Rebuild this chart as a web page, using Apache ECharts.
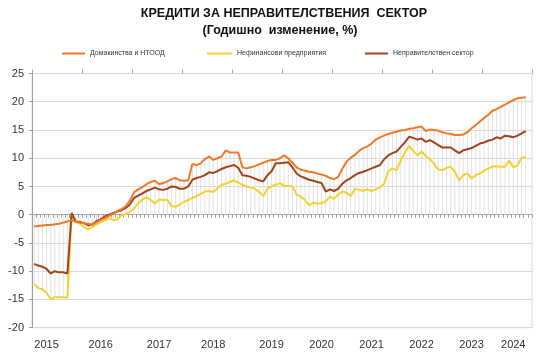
<!DOCTYPE html>
<html><head><meta charset="utf-8">
<script src="https://cdn.jsdelivr.net/npm/echarts@6/dist/echarts.min.js"></script>
<style>html,body{margin:0;padding:0;background:#fff}#c{width:541px;height:355px}</style>
</head><body><div id="c"></div>
<script>
// categories: monthly, Jan 2015 .. Dec 2024
const months = [];
for (let y = 2015; y <= 2024; y++) for (let m = 1; m <= 12; m++) months.push(y + '-' + (m < 10 ? '0' + m : m));

const yearLabels = ['2015','2016','2017','2018','2019','2020','2021','2022','2023','2024'];
const yearLabelMonths = ['2015-04','2016-05','2017-07','2018-08','2019-10','2020-10','2021-10','2022-10','2023-10','2024-08'];
const yTicks = [-20,-15,-10,-5,0,5,10,15,20,25];

const seriesNames = ['Домакинства и НТООД','Нефинансови предприятия','Неправителствен сектор'];

const households = [
-2.1,-2.0,-1.9,-1.8,-1.8,-1.7,-1.6,-1.4,-1.2,-1.0,
-1.2,-1.4,-1.5,-1.6,-1.8,-1.3,-0.9,-0.6,-0.2,0.2,
0.7,1.0,1.5,2.5,4.0,4.5,4.9,5.4,5.8,6.0,
5.4,5.6,5.9,6.3,6.5,6.1,6.0,6.1,9.0,8.8,
9.1,9.9,10.3,9.7,10.0,10.3,11.4,11.0,11.0,11.0,
8.4,8.2,8.4,8.6,8.9,9.2,9.5,9.7,9.7,10.0,
10.5,10.0,9.2,8.4,8.0,7.8,7.6,7.5,7.3,7.1,
6.9,6.5,6.3,6.7,8.2,9.4,10.1,10.6,11.3,11.8,
12.1,12.6,13.3,13.7,14.0,14.3,14.5,14.7,14.9,15.0,
15.2,15.3,15.5,15.6,14.8,15.1,15.0,14.9,14.6,14.4,
14.3,14.1,14.1,14.2,14.6,15.3,15.9,16.5,17.1,17.7,
18.4,18.7,19.1,19.5,19.9,20.3,20.6,20.7,20.8
];
const corporates = [
-12.2,-13.0,-13.2,-13.8,-15.0,-14.6,-14.6,-14.6,-14.7,-0.5,
-1.3,-1.6,-2.2,-2.6,-2.2,-1.7,-1.3,-1.0,-0.6,-1.0,
-0.8,-0.1,0.1,0.5,1.2,2.0,2.7,3.1,2.6,2.0,
2.7,2.6,2.6,1.5,1.4,1.8,2.3,2.6,3.0,3.3,
3.7,4.1,4.2,4.0,4.7,5.3,5.5,5.8,6.1,5.7,
5.3,5.0,4.8,4.6,4.0,3.3,4.6,5.0,5.3,5.6,
5.1,5.1,5.0,3.6,3.2,2.6,1.7,2.1,2.0,2.0,
2.4,3.2,2.8,3.6,4.1,3.9,3.3,4.6,4.4,4.2,
4.5,4.2,4.5,4.8,5.5,7.7,8.2,7.9,9.6,11.0,
12.2,11.3,10.5,11.2,10.4,9.8,9.0,8.0,7.9,8.3,
8.5,7.6,6.1,7.0,7.3,6.4,7.0,7.3,7.8,8.2,
8.5,8.6,8.5,8.5,9.6,8.4,8.7,10.1,10.2
];
const nonGovernment = [
-8.7,-9.0,-9.2,-9.6,-10.4,-10.0,-10.2,-10.2,-10.4,0.3,
-1.2,-1.3,-1.5,-1.9,-1.7,-1.1,-0.8,-0.3,0.0,0.3,
0.6,0.8,1.2,1.8,3.0,3.4,3.8,4.2,4.5,4.8,
4.5,4.4,4.6,5.0,4.9,4.6,4.6,5.0,6.2,6.5,
6.7,7.0,7.5,7.4,7.7,8.1,8.4,8.6,8.8,8.3,
7.0,6.9,6.7,6.4,6.1,5.9,7.0,7.7,9.1,9.1,
9.2,9.3,8.4,7.3,6.8,6.5,6.2,6.0,5.8,5.6,
4.1,4.5,4.2,4.6,5.5,6.1,6.5,7.0,7.4,7.6,
7.9,8.2,8.5,8.8,9.8,10.5,10.9,11.2,12.0,12.8,
13.8,13.6,13.3,13.5,12.9,13.2,12.8,12.3,11.9,11.9,
11.9,11.4,10.9,11.4,11.6,11.8,12.2,12.6,12.8,13.1,
13.3,13.7,13.5,14.0,13.9,13.7,14.0,14.4,14.8
];

// drop lines: from zero to the furthest of the three values in each month
const dropLines = households.map((v, i) => {
  const vals = [v, corporates[i], nonGovernment[i]];
  return vals.reduce((a, b) => Math.abs(b) > Math.abs(a) ? b : a);
});

const colors = ['#EE7A28', '#F3D22F', '#A1441D'];
const font = 'Liberation Sans, Arial, sans-serif';
const gridPos = {left: 32, right: 9, top: 73.5, height: 254.2};

const chart = echarts.init(document.getElementById('c'), null, {renderer: 'canvas'});
const legendBase = {
  icon: 'rect', itemHeight: 2, top: 50, orient: 'horizontal',
  textStyle: {fontSize: 7, color: '#333', fontFamily: font}, padding: 0
};
chart.setOption({
  animation: false,
  title: [
    {text: 'КРЕДИТИ ЗА НЕПРАВИТЕЛСТВЕНИЯ  СЕКТОР', left: 279, top: 2, textAlign: 'center',
     textStyle: {fontSize: 12.5, fontWeight: 'bold', color: '#111', fontFamily: font}},
    {text: '(Годишно  изменение, %)', left: 275, top: 19, textAlign: 'center',
     textStyle: {fontSize: 12.5, fontWeight: 'bold', color: '#111', fontFamily: font}}
  ],
  legend: [
    Object.assign({}, legendBase, {left: 62, itemWidth: 23, data: [seriesNames[0]]}),
    Object.assign({}, legendBase, {left: 207, itemWidth: 25, data: [seriesNames[1]]}),
    Object.assign({}, legendBase, {left: 365, itemWidth: 23, data: [seriesNames[2]]})
  ],
  grid: [
    Object.assign({show: true, borderColor: '#d9d9d9', borderWidth: 1}, gridPos),
    Object.assign({}, gridPos)
  ],
  xAxis: [
    {type: 'category', gridIndex: 0, data: months, position: 'bottom', boundaryGap: true,
     axisLine: {onZero: true, lineStyle: {color: '#a0a0a0', width: 1}},
     axisTick: {show: true, interval: 0, length: 3, lineStyle: {color: '#a0a0a0'}},
     axisLabel: {show: false}, splitLine: {show: false}},
    {type: 'category', gridIndex: 0, data: months, position: 'top', boundaryGap: true,
     axisLine: {show: false, onZero: true},
     axisTick: {show: true, interval: 11, length: 4, lineStyle: {color: '#a0a0a0'}},
     axisLabel: {show: false}, splitLine: {show: false}},
    {type: 'category', gridIndex: 1, data: months, position: 'bottom', boundaryGap: true,
     axisLine: {show: false, onZero: false}, axisTick: {show: false},
     axisLabel: {show: true, margin: 12, fontSize: 11, color: '#333', fontFamily: font,
       interval: (idx, val) => yearLabelMonths.indexOf(val) >= 0,
       formatter: (val) => yearLabels[yearLabelMonths.indexOf(val)]},
     splitLine: {show: false}}
  ],
  yAxis: [
    {type: 'value', gridIndex: 0, min: yTicks[0], max: yTicks[yTicks.length - 1], interval: 5,
     axisLine: {show: true, lineStyle: {color: '#a0a0a0'}},
     axisTick: {show: true, length: 3, lineStyle: {color: '#a0a0a0'}},
     axisLabel: {fontSize: 11, color: '#333', margin: 8, fontFamily: font},
     splitLine: {lineStyle: {color: '#d9d9d9', width: 1}}},
    {type: 'value', gridIndex: 1, min: yTicks[0], max: yTicks[yTicks.length - 1], interval: 5, show: false}
  ],
  series: [
    {type: 'bar', name: 'drop', xAxisIndex: 0, yAxisIndex: 0, data: dropLines, barWidth: 1,
     itemStyle: {color: '#e2e2e2'}, silent: true, z: 1},
    {type: 'line', name: seriesNames[2], xAxisIndex: 0, yAxisIndex: 0, data: nonGovernment,
     symbol: 'none', lineStyle: {color: colors[2], width: 2}, itemStyle: {color: colors[2]}, z: 3},
    {type: 'line', name: seriesNames[1], xAxisIndex: 0, yAxisIndex: 0, data: corporates,
     symbol: 'none', lineStyle: {color: colors[1], width: 2}, itemStyle: {color: colors[1]}, z: 2},
    {type: 'line', name: seriesNames[0], xAxisIndex: 0, yAxisIndex: 0, data: households,
     symbol: 'none', lineStyle: {color: colors[0], width: 2}, itemStyle: {color: colors[0]}, z: 4}
  ]
});
</script></body></html>
